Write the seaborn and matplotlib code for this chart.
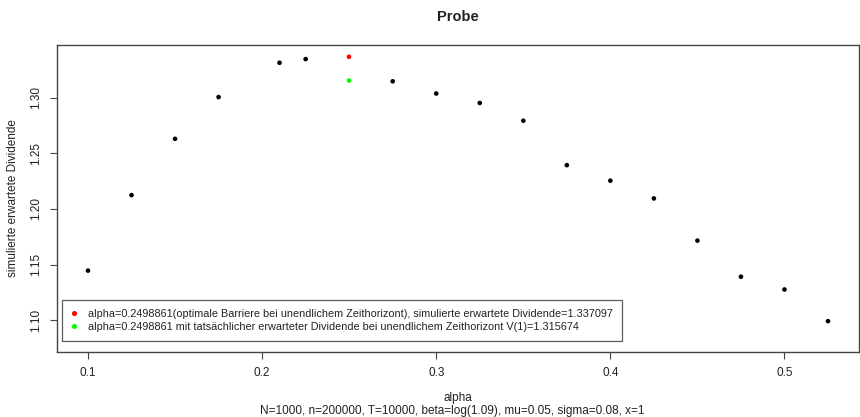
import matplotlib
matplotlib.use("Agg")
import matplotlib.pyplot as plt
import seaborn as sns
import pandas as pd
from matplotlib.lines import Line2D

sns.set_theme(style="white")
plt.rcParams['font.family'] = ['Liberation Sans', 'DejaVu Sans']

alpha = [0.1, 0.125, 0.15, 0.175, 0.21, 0.225, 0.275, 0.3, 0.325, 0.35,
         0.375, 0.4, 0.425, 0.45, 0.475, 0.5, 0.525]
dividend = [1.1445, 1.2125, 1.2632, 1.3008, 1.3317, 1.3350, 1.3150, 1.3040,
            1.2955, 1.2795, 1.2395, 1.2255, 1.2095, 1.1715, 1.1390, 1.1275, 1.0990]
opt_alpha = [0.2498861]
sim_div = [1.337097]
true_div = [1.315674]

legend_labels = [
    "alpha=0.2498861(optimale Barriere bei unendlichem Zeithorizont), simulierte erwartete Dividende=1.337097",
    "alpha=0.2498861 mit tatsächlicher erwarteter Dividende bei unendlichem Zeithorizont V(1)=1.315674",
]

df = pd.DataFrame({"alpha": alpha, "div": dividend})

fig = plt.figure(figsize=(8.6, 4.17), dpi=100)
ax = fig.add_axes([57/860, 1-352/417, (859-57)/860, (352-45)/417])

sns.scatterplot(data=df, x="alpha", y="div", ax=ax, color="black", s=11,
                edgecolor="none", linewidth=0)
sns.scatterplot(x=opt_alpha, y=sim_div, ax=ax, color="#ff0000", s=11,
                edgecolor="none", linewidth=0)
sns.scatterplot(x=opt_alpha, y=true_div, ax=ax, color="#00ff00", s=11,
                edgecolor="none", linewidth=0)

ax.set_xlim(0.0822, 0.5428)
ax.set_ylim(1.0712, 1.3477)
ax.set_xticks([0.1, 0.2, 0.3, 0.4, 0.5])
ax.set_xticklabels(["0.1", "0.2", "0.3", "0.4", "0.5"])
ax.set_yticks([1.10, 1.15, 1.20, 1.25, 1.30])
ax.set_yticklabels(["1.10", "1.15", "1.20", "1.25", "1.30"], rotation=90, va="center")

for s in ax.spines.values():
    s.set_color("#444444")
    s.set_linewidth(1.0)
ax.tick_params(axis="both", which="both", direction="out", length=5, width=0.8,
               color="#444444", labelsize=8.5, labelcolor="#222222",
               bottom=True, left=True, pad=6)

ax.set_xlabel("")
ax.set_ylabel("simulierte erwartete Dividende", fontsize=8.5, color="#222222", labelpad=8)
fig.text(458/860, 1-398/417, "alpha", ha="center", va="center", fontsize=8.5, color="#222222")
fig.text(452/860, 1-411/417, "N=1000, n=200000, T=10000, beta=log(1.09), mu=0.05, sigma=0.08, x=1",
         ha="center", va="center", fontsize=8.5, color="#222222")
fig.text(458/860, 1-17/417, "Probe", ha="center", va="center", fontsize=10.5,
         fontweight="bold", color="#222222")

handles = [
    Line2D([], [], marker="o", linestyle="none", color="#ff0000", markersize=2.6),
    Line2D([], [], marker="o", linestyle="none", color="#00ff00", markersize=2.6),
]
leg = ax.legend(handles, legend_labels, loc="lower left",
                bbox_to_anchor=(5/802, 11/307), fontsize=7.85, frameon=True,
                fancybox=False, handlelength=0.6, handletextpad=1.0,
                borderpad=0.8, labelspacing=0.3, borderaxespad=0)
leg.get_frame().set_edgecolor("#333333")
leg.get_frame().set_linewidth(0.9)
for t in leg.get_texts():
    t.set_color("#222222")

fig.savefig("out.png", dpi=100)
